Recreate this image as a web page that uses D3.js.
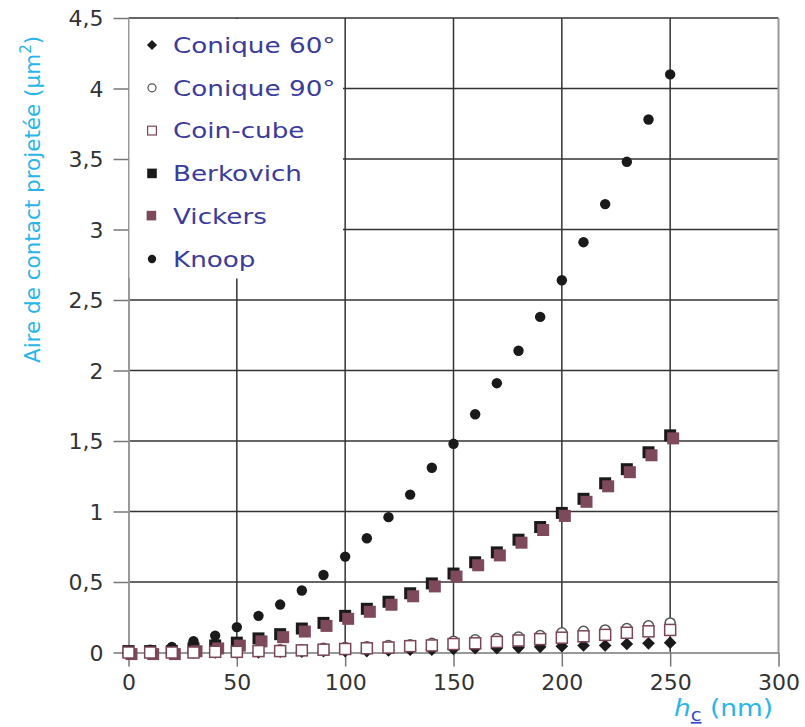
<!DOCTYPE html>
<html>
<head>
<meta charset="utf-8">
<script src="https://cdn.jsdelivr.net/npm/d3@7"></script>
<style>
  body { margin: 0; background: #fff; }
  svg text { font-family: "DejaVu Sans", Verdana, sans-serif; }
</style>
</head>
<body>
<div id="chart"></div>
<script>
// profondeur de contact hc (nm)
const hc = [0, 10, 20, 30, 40, 50, 60, 70, 80, 90, 100, 110, 120, 130, 140, 150, 160, 170, 180, 190, 200, 210, 220, 230, 240, 250];

const conique60 = [0, 0, 0, 0, 0, 0, 0, 0.005, 0.005, 0.01, 0.01, 0.01, 0.015, 0.02, 0.02, 0.025, 0.03, 0.03, 0.035, 0.04, 0.045, 0.05, 0.05, 0.06, 0.065, 0.07];
const conique90 = [0, 0, 0, 0.005, 0.005, 0.01, 0.01, 0.02, 0.02, 0.03, 0.035, 0.04, 0.05, 0.055, 0.065, 0.08, 0.09, 0.1, 0.11, 0.12, 0.14, 0.15, 0.16, 0.17, 0.19, 0.21];
const coinCube = [0, 0, 0, 0, 0.005, 0.005, 0.01, 0.01, 0.015, 0.02, 0.025, 0.03, 0.035, 0.045, 0.05, 0.06, 0.065, 0.075, 0.085, 0.095, 0.105, 0.115, 0.125, 0.14, 0.15, 0.16];
const berkovich = [0.01, 0.01, 0.01, 0.03, 0.05, 0.07, 0.1, 0.13, 0.17, 0.21, 0.26, 0.31, 0.36, 0.42, 0.49, 0.56, 0.64, 0.71, 0.8, 0.89, 0.99, 1.09, 1.2, 1.3, 1.42, 1.54];
const vickers = [0.01, 0.01, 0.01, 0.03, 0.05, 0.07, 0.1, 0.13, 0.17, 0.21, 0.26, 0.31, 0.36, 0.42, 0.49, 0.56, 0.64, 0.71, 0.8, 0.89, 0.99, 1.09, 1.2, 1.3, 1.42, 1.54];
const knoop = [0.01, 0.02, 0.04, 0.08, 0.12, 0.18, 0.26, 0.34, 0.44, 0.55, 0.68, 0.81, 0.96, 1.12, 1.31, 1.48, 1.69, 1.91, 2.14, 2.38, 2.64, 2.91, 3.18, 3.48, 3.78, 4.1];

const xTicks = [0, 50, 100, 150, 200, 250, 300];
const yTicks = [0, 0.5, 1, 1.5, 2, 2.5, 3, 3.5, 4, 4.5];

const series = [
  { name: "Conique 60°", values: conique60, shape: "diamond" },
  { name: "Conique 90°", values: conique90, shape: "openCircle" },
  { name: "Coin-cube", values: coinCube, shape: "openSquare" },
  { name: "Berkovich", values: berkovich, shape: "square" },
  { name: "Vickers", values: vickers, shape: "maroonSquare" },
  { name: "Knoop", values: knoop, shape: "circle" }
];
// ordre de dessin des points
const drawOrder = ["Knoop", "Berkovich", "Vickers", "Conique 60°", "Conique 90°", "Coin-cube"];

const width = 805, height = 727;
const margin = { top: 18, right: 26.5, bottom: 74.5, left: 128.5 };
const sx = 1.22; // étirement horizontal du texte

const svg = d3.select("#chart").append("svg")
  .attr("width", width)
  .attr("height", height);

const x = d3.scaleLinear().domain([0, 300]).range([margin.left, width - margin.right]);
const y = d3.scaleLinear().domain([0, 4.5]).range([height - margin.bottom, margin.top]);

// grille
svg.append("g").selectAll("line")
  .data(xTicks.slice(1, -1))
  .join("line")
  .attr("x1", d => x(d)).attr("x2", d => x(d))
  .attr("y1", y(4.5)).attr("y2", y(0))
  .attr("stroke", "#333").attr("stroke-width", 1.5);

svg.append("g").selectAll("line")
  .data(yTicks.slice(1))
  .join("line")
  .attr("x1", x(0)).attr("x2", x(300))
  .attr("y1", d => y(d)).attr("y2", d => y(d))
  .attr("stroke", "#333").attr("stroke-width", 1.5);

// bord droit
svg.append("line")
  .attr("x1", x(300)).attr("x2", x(300))
  .attr("y1", y(4.5)).attr("y2", y(0))
  .attr("stroke", "#999").attr("stroke-width", 2);

// axes
const xAxis = svg.append("g")
  .attr("transform", `translate(0,${y(0)})`)
  .call(d3.axisBottom(x).tickValues(xTicks).tickSize(14).tickSizeOuter(0).tickPadding(8));
const yAxis = svg.append("g")
  .attr("transform", `translate(${x(0)},0)`)
  .call(d3.axisLeft(y).tickValues(yTicks).tickSize(15).tickSizeOuter(0).tickPadding(10)
    .tickFormat(d => String(d).replace(".", ",")));

[xAxis, yAxis].forEach(g => {
  g.select(".domain").attr("stroke", "#999").attr("stroke-width", 2);
  g.selectAll(".tick line").attr("stroke", "#777").attr("stroke-width", 1.5);
  g.selectAll(".tick text")
    .attr("fill", "#333")
    .attr("font-size", 22)
    .attr("font-family", "DejaVu Sans");
});
yAxis.selectAll(".tick text").attr("dy", "0.35em");

// symboles
function drawSymbol(g, shape) {
  if (shape === "diamond") {
    g.append("path").attr("d", d3.symbol(d3.symbolSquare, 80)())
      .attr("transform", "rotate(45)").attr("fill", "#1a1a1a");
  } else if (shape === "openCircle") {
    g.append("circle").attr("r", 5).attr("fill", "#fff")
      .attr("stroke", "#555").attr("stroke-width", 1.5);
  } else if (shape === "openSquare") {
    g.append("rect").attr("x", -5.5).attr("y", -5.5).attr("width", 11).attr("height", 11)
      .attr("fill", "#fff").attr("stroke", "#7a4656").attr("stroke-width", 1.5);
  } else if (shape === "square") {
    g.append("rect").attr("x", -6).attr("y", -6).attr("width", 12).attr("height", 12)
      .attr("fill", "#1a1a1a");
  } else if (shape === "maroonSquare") {
    g.append("rect").attr("x", -3).attr("y", -3).attr("width", 12).attr("height", 12)
      .attr("fill", "#7e4a5b");
  } else if (shape === "circle") {
    g.append("circle").attr("r", 5.2).attr("fill", "#1a1a1a");
  }
}

// légende (fond blanc)
const legend = svg.append("g");
legend.append("rect")
  .attr("x", x(0) + 1).attr("y", y(4.5) + 1)
  .attr("width", x(99) - x(0) - 1).attr("height", y(2.66) - y(4.5))
  .attr("fill", "#fff");

series.forEach((s, i) => {
  const row = legend.append("g").attr("transform", `translate(152,${45 + i * 42.8})`);
  const sym = row.append("g");
  if (s.shape === "maroonSquare") sym.attr("transform", "translate(-3,-3) scale(0.8)");
  else sym.attr("transform", "scale(0.8)");
  drawSymbol(sym, s.shape);
  row.append("text")
    .attr("x", 21 / sx).attr("dy", "0.36em")
    .attr("transform", `scale(${sx},1)`)
    .attr("font-size", 21.5)
    .attr("fill", "#3c3c9a")
    .text(s.name);
});

// points
drawOrder.forEach(name => {
  const s = series.find(d => d.name === name);
  const g = svg.append("g");
  hc.forEach((h, i) => {
    const p = g.append("g").attr("transform", `translate(${x(h)},${y(s.values[i])})`);
    drawSymbol(p, s.shape);
  });
});

// titres des axes
svg.append("text")
  .attr("transform", `translate(40,${(y(4.5) + 365) / 2 + 8}) rotate(-90)`)
  .attr("text-anchor", "middle")
  .attr("font-size", 21.5)
  .attr("fill", "#29b5ea")
  .call(t => {
    t.append("tspan").text("Aire de contact projetée (µm");
    t.append("tspan").attr("dy", -9).attr("font-size", 15).text("2");
    t.append("tspan").attr("dy", 9).text(")");
  });

const xt = svg.append("text")
  .attr("transform", "translate(674,716) scale(1.15,1)")
  .attr("font-size", 23)
  .attr("fill", "#29b5ea");
xt.append("tspan").attr("font-style", "italic").text("h");
xt.append("tspan").attr("dy", 5).attr("font-size", 17).attr("fill", "#3344cc")
  .attr("text-decoration", "underline").text("c");
xt.append("tspan").attr("dy", -5).text(" (nm)");
</script>
</body>
</html>
